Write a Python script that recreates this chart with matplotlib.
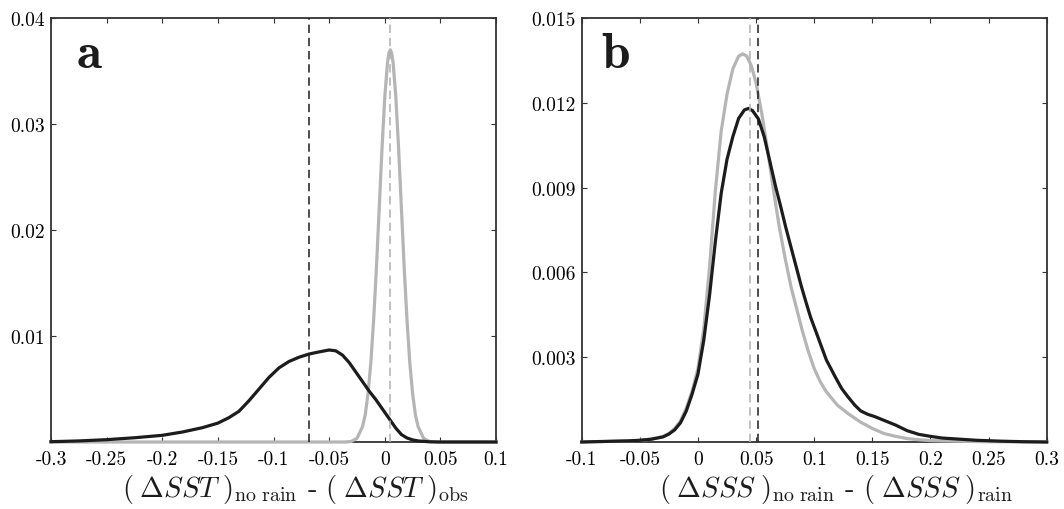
import matplotlib
matplotlib.use("Agg")
import matplotlib.pyplot as plt

# ---------------- data ----------------
# Panel a: (dSST)_no rain - (dSST)_obs
a_black_x = [-0.3, -0.275, -0.25, -0.225, -0.2, -0.182, -0.164, -0.15, -0.14, -0.131,
             -0.122, -0.113, -0.104, -0.095, -0.086, -0.077, -0.068, -0.059, -0.05, -0.044,
             -0.038, -0.032, -0.026, -0.02, -0.014, -0.008, -0.002, 0.004, 0.01, 0.015,
             0.02, 0.025, 0.03, 0.04, 0.05, 0.1]
a_black_y = [0.00003, 0.0001, 0.00022, 0.0004, 0.00063, 0.00094, 0.00135, 0.00178, 0.0023, 0.0029,
             0.0039, 0.0050, 0.0061, 0.0070, 0.0076, 0.0080, 0.0083, 0.0085, 0.00868, 0.0086,
             0.0082, 0.0075, 0.0066, 0.0057, 0.0048, 0.0040, 0.0031, 0.0022, 0.0013, 0.0007,
             0.00038, 0.0002, 0.0001, 0.00002, 0.0, 0.0]

a_gray_x = [-0.3, -0.035, -0.03, -0.025, -0.02, -0.0175, -0.015, -0.0125, -0.01, -0.0075,
            -0.005, -0.0025, 0.0, 0.0025, 0.00375, 0.005, 0.00625, 0.0075, 0.01, 0.0125,
            0.015, 0.0175, 0.02, 0.0225, 0.025, 0.0275, 0.03, 0.035, 0.04, 0.045, 0.1]
a_gray_y = [0.0, 0.0, 0.00006, 0.00034, 0.00144, 0.0026, 0.0046, 0.0075, 0.0115, 0.0164,
            0.0220, 0.0276, 0.0325, 0.0358, 0.0367, 0.0370, 0.0367, 0.0358, 0.0325, 0.0276,
            0.0220, 0.0164, 0.0115, 0.0075, 0.0046, 0.0026, 0.00144, 0.00034, 0.00006, 0.0, 0.0]

a_black_mean = -0.068
a_gray_mean = 0.005

# Panel b: (dSSS)_no rain - (dSSS)_rain
b_gray_x = [-0.1, -0.08, -0.06, -0.05, -0.04, -0.03, -0.025, -0.02, -0.015, -0.01,
            -0.005, 0.0, 0.005, 0.01, 0.015, 0.02, 0.025, 0.03, 0.035, 0.0385,
            0.042, 0.046, 0.05, 0.055, 0.06, 0.065, 0.07, 0.075, 0.08, 0.085,
            0.09, 0.095, 0.1, 0.105, 0.11, 0.12, 0.13, 0.14, 0.15, 0.16,
            0.17, 0.18, 0.19, 0.2, 0.22, 0.25, 0.3]
b_gray_y = [0.0, 0.00002, 0.00004, 0.00006, 0.0001, 0.0002, 0.0003, 0.00048, 0.00075, 0.0012,
            0.0018, 0.0026, 0.0040, 0.0062, 0.0089, 0.0110, 0.0123, 0.0132, 0.01365, 0.01373,
            0.01365, 0.0133, 0.0127, 0.0116, 0.0103, 0.0089, 0.0076, 0.0065, 0.0055, 0.0047,
            0.0039, 0.0032, 0.0026, 0.00215, 0.0018, 0.0013, 0.00098, 0.0007, 0.00048, 0.0003,
            0.0002, 0.00012, 0.00008, 0.00005, 0.00003, 0.00001, 0.0]

b_black_x = [-0.1, -0.08, -0.06, -0.05, -0.04, -0.03, -0.025, -0.02, -0.015, -0.01,
             -0.005, 0.0, 0.005, 0.01, 0.015, 0.02, 0.025, 0.03, 0.035, 0.04,
             0.0435, 0.047, 0.052, 0.057, 0.062, 0.067, 0.071, 0.0755, 0.08, 0.0845,
             0.089, 0.093, 0.097, 0.102, 0.106, 0.1105, 0.1175, 0.1235, 0.129, 0.135,
             0.14, 0.146, 0.152, 0.158, 0.164, 0.17, 0.18, 0.19, 0.2, 0.21,
             0.225, 0.24, 0.26, 0.28, 0.3]
b_black_y = [0.0, 0.00002, 0.00004, 0.00006, 0.0001, 0.00018, 0.00028, 0.00043, 0.00068, 0.0011,
             0.0017, 0.0024, 0.0036, 0.0052, 0.0071, 0.0088, 0.0100, 0.0108, 0.01145, 0.01175,
             0.0118, 0.01172, 0.01143, 0.0108, 0.0099, 0.0090, 0.00836, 0.0076, 0.0069, 0.0062,
             0.0055, 0.00494, 0.0044, 0.00385, 0.0034, 0.0029, 0.00235, 0.0019, 0.0016, 0.0013,
             0.0011, 0.00098, 0.0009, 0.0008, 0.0007, 0.0006, 0.0004, 0.00027, 0.0002, 0.00014,
             0.0001, 0.00006, 0.00003, 0.00001, 0.0]

b_gray_mean = 0.0448
b_black_mean = 0.0518

a_xticks = [-0.3, -0.25, -0.2, -0.15, -0.1, -0.05, 0.0, 0.05, 0.1]
a_xticklabels = ["-0.3", "-0.25", "-0.2", "-0.15", "-0.1", "-0.05", "0", "0.05", "0.1"]
a_yticks = [0.01, 0.02, 0.03, 0.04]
a_yticklabels = ["0.01", "0.02", "0.03", "0.04"]

b_xticks = [-0.1, -0.05, 0.0, 0.05, 0.1, 0.15, 0.2, 0.25, 0.3]
b_xticklabels = ["-0.1", "-0.05", "0", "0.05", "0.1", "0.15", "0.2", "0.25", "0.3"]
b_yticks = [0.003, 0.006, 0.009, 0.012, 0.015]
b_yticklabels = ["0.003", "0.006", "0.009", "0.012", "0.015"]

a_xlabel = r"$(\;\Delta SST\;)_{\mathrm{no\ rain}}$ - $(\;\Delta SST\;)_{\mathrm{obs}}$"
b_xlabel = r"$(\;\Delta SSS\;)_{\mathrm{no\ rain}}$ - $(\;\Delta SSS\;)_{\mathrm{rain}}$"

# ---------------- style ----------------
plt.rcParams["font.family"] = ["cmr10", "DejaVu Serif"]
plt.rcParams["mathtext.fontset"] = "cm"
plt.rcParams["axes.unicode_minus"] = False
plt.rcParams["lines.scale_dashes"] = False

BLACK = "#1c1c1c"
GRAY = "#b5b5b5"
DGRAY = "#b0b0b0"
SPINE = "#333333"

fig = plt.figure(figsize=(10.64, 5.10), dpi=100)
W, H = 1064.0, 510.0
ax_a = fig.add_axes([51 / W, (H - 443) / H, 445 / W, 424 / H])
ax_b = fig.add_axes([581.7 / W, (H - 443) / H, 465 / W, 424 / H])


def style(ax, xlim, ylim, xt, xtl, yt, ytl):
    ax.set_xlim(*xlim)
    ax.set_ylim(*ylim)
    ax.set_xticks(xt)
    ax.set_xticklabels(xtl)
    ax.set_yticks(yt)
    ax.set_yticklabels(ytl)
    ax.tick_params(direction="in", top=True, right=True, length=3.6, width=0.8,
                   color=SPINE, labelsize=14)
    ax.tick_params(axis="x", pad=6)
    ax.tick_params(axis="y", pad=4.5)
    for s in ax.spines.values():
        s.set_linewidth(1.3)
        s.set_color(SPINE)


# panel a
ax = ax_a
ax.plot(a_gray_x, a_gray_y, color=GRAY, lw=2.3, clip_on=False, zorder=3)
ax.plot(a_black_x, a_black_y, color=BLACK, lw=2.3, clip_on=False, zorder=4)
ax.axvline(a_black_mean, color=BLACK, lw=1.1, dashes=(6, 3.5), zorder=5)
ax.axvline(a_gray_mean, color=DGRAY, lw=1.1, dashes=(6, 3.5), zorder=5)
style(ax, (-0.3, 0.1), (0, 0.04), a_xticks, a_xticklabels, a_yticks, a_yticklabels)
ax.text(0.058, 0.885, "a", transform=ax.transAxes, fontsize=37,
        family=["cmb10", "DejaVu Serif"], color=BLACK, ha="left", va="baseline")
ax.text(0.55, -0.127, a_xlabel, transform=ax.transAxes, fontsize=20.5,
        ha="center", va="baseline", color=BLACK)

# panel b
ax = ax_b
ax.plot(b_gray_x, b_gray_y, color=GRAY, lw=2.3, clip_on=False, zorder=3)
ax.plot(b_black_x, b_black_y, color=BLACK, lw=2.3, clip_on=False, zorder=4)
ax.axvline(b_gray_mean, color=DGRAY, lw=1.1, dashes=(6, 3.5), zorder=5)
ax.axvline(b_black_mean, color=BLACK, lw=1.1, dashes=(6, 3.5), zorder=5)
style(ax, (-0.1, 0.3), (0, 0.015), b_xticks, b_xticklabels, b_yticks, b_yticklabels)
ax.text(0.043, 0.884, "b", transform=ax.transAxes, fontsize=37,
        family=["cmb10", "DejaVu Serif"], color=BLACK, ha="left", va="baseline")
ax.text(0.547, -0.127, b_xlabel, transform=ax.transAxes, fontsize=20.5,
        ha="center", va="baseline", color=BLACK)

fig.savefig("out.png", dpi=100)
